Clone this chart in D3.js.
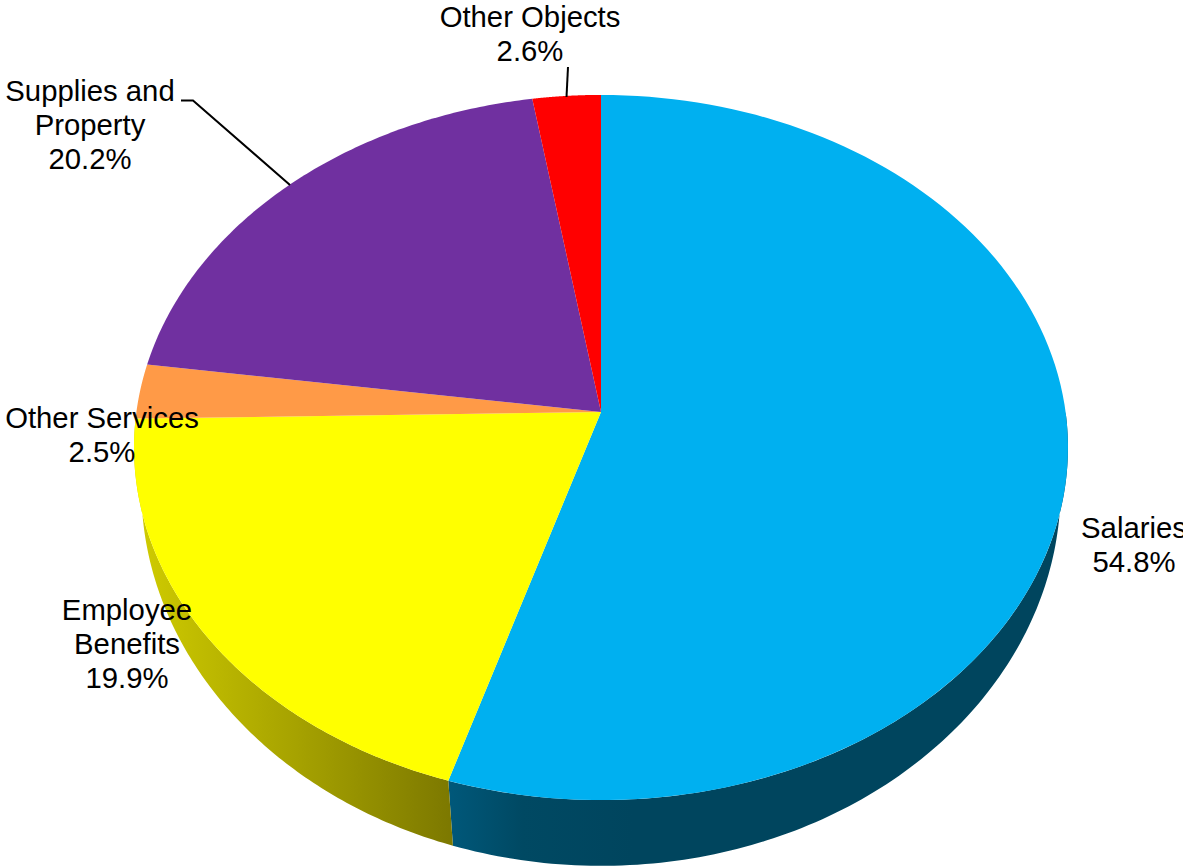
<!DOCTYPE html>
<html>
<head>
<meta charset="utf-8">
<script src="https://cdn.jsdelivr.net/npm/d3@7/dist/d3.min.js"></script>
<style>
  html, body { margin: 0; padding: 0; background: #fff; overflow: hidden; }
  svg { display: block; }
  text { font-family: "Liberation Sans", Arial, sans-serif; font-size: 29.3px; fill: #000; text-anchor: middle; }
</style>
</head>
<body>
<svg id="chart" width="1183" height="866"></svg>
<script>
// Spending by object, share of total (percent), clockwise from twelve o'clock
const categories = ["Salaries", "Employee Benefits", "Other Services", "Supplies and Property", "Other Objects"];
const shares = [54.8, 19.9, 2.5, 20.2, 2.6];
const labelLines = [["Salaries"], ["Employee", "Benefits"], ["Other Services"], ["Supplies and", "Property"], ["Other Objects"]];
const topColors = ["#00B0F0", "#FFFF00", "#FF9A47", "#7030A0", "#FF0000"];

// Text placement: horizontal centre and first baseline of each label
const labelAnchors = [[1134, 537.5], [127, 619.5], [102, 427.5], [90, 100.5], [530, 27]];
const leaders = [null, null, null, [[181, 100.5], [193, 100.5], [290, 185]], [[568, 67], [566.5, 97]]];

const svg = d3.select("#chart");
const defs = svg.append("defs");

// Perspective projection of a unit disc on to the page
const project = (theta, disc) => {
  const u = Math.sin(theta), v = -Math.cos(theta), w = 1 + disc.persp * v;
  return [601 + disc.rx * u / w, disc.cy + disc.ry * v / w];
};
const upperDisc = { persp: -0.1007, rx: 464.6, ry: 349, cy: 412 };
const lowerDisc = { persp: -0.085, rx: 458, ry: 375, cy: 456 };
const topRim = t => project(t, upperDisc);
const bottomRim = t => project(t, lowerDisc);

const arcs = d3.pie().sort(null).value(d => d).startAngle(0).endAngle(2 * Math.PI)(shares);
const sample = (a, b, f) => d3.range(0, 121).map(i => f(a + (b - a) * i / 120));
const line = d3.line();

// Rim gradients follow the page x direction
const rimGradient = (id, x1, x2, stops) => {
  const g = defs.append("linearGradient").attr("id", id)
    .attr("gradientUnits", "userSpaceOnUse")
    .attr("x1", x1).attr("x2", x2).attr("y1", 0).attr("y2", 0);
  stops.forEach(([o, c]) => g.append("stop").attr("offset", o).attr("stop-color", c));
};
rimGradient("rimBlue", 449, 1060, [[0, "#00587A"], [0.12, "#004963"], [0.3, "#00455E"], [1, "#00455E"]]);
rimGradient("rimYellow", 140, 453, [[0, "#CFCB00"], [0.5, "#A6A200"], [1, "#7C7800"]]);

// Visible side wall of the two front slices
const wallSpans = [
  { from: Math.PI / 2, to: arcs[0].endAngle, fill: "url(#rimBlue)" },
  { from: arcs[1].startAngle, to: arcs[1].endAngle, fill: "url(#rimYellow)" }
];
svg.append("g").selectAll("path").data(wallSpans).join("path")
  .attr("d", d => line(sample(d.from, d.to, topRim).concat(sample(d.from, d.to, bottomRim).reverse())) + "Z")
  .attr("fill", d => d.fill);

// Top face
svg.append("g").selectAll("path").data(arcs).join("path")
  .attr("d", d => line([[601, 412]].concat(sample(d.startAngle, d.endAngle, topRim))) + "Z")
  .attr("fill", (d, i) => topColors[i]);

// Leader lines
svg.append("g").selectAll("path").data(leaders.filter(Boolean)).join("path")
  .attr("d", line).attr("fill", "none").attr("stroke", "#000").attr("stroke-width", 2);

// Labels: name lines then the percentage
const labels = svg.append("g").selectAll("text").data(categories).join("text")
  .attr("transform", (d, i) => `translate(${labelAnchors[i][0]},${labelAnchors[i][1]})`);
labels.selectAll("tspan")
  .data((d, i) => labelLines[i].concat([shares[i].toFixed(1) + "%"]))
  .join("tspan").attr("x", 0).attr("y", (d, j) => j * 34).text(d => d);
</script>
</body>
</html>
